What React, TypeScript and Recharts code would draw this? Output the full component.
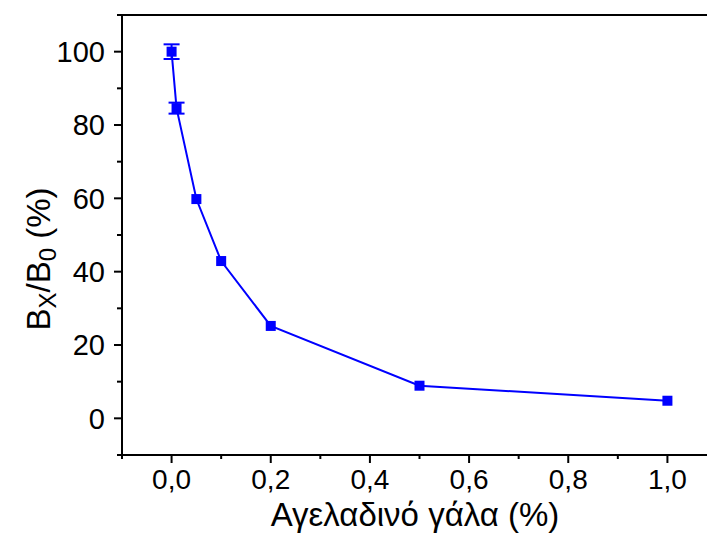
import { LineChart, Line, XAxis, YAxis, ErrorBar, ReferenceLine, Label } from 'recharts';

const milkPct = [0, 0.01, 0.05, 0.1, 0.2, 0.5, 1.0];
const ratioPct = [100, 84.6, 59.8, 42.9, 25.2, 8.9, 4.8];
const ratioErr = [2, 1.5, 0, 0, 0, 0, 0];

const xTicks = [-0.1, 0, 0.1, 0.2, 0.3, 0.4, 0.5, 0.6, 0.7, 0.8, 0.9, 1.0];
const yTicks = [-10, 0, 10, 20, 30, 40, 50, 60, 70, 80, 90, 100, 110];

const FONT = '"Liberation Sans", Arial, sans-serif';
const BLUE = '#0000ff';

const data = milkPct.map((x, i) => ({ x, y: ratioPct[i], err: ratioErr[i] }));

function XTick({ x, y, payload }: any) {
  const v = payload.value as number;
  const major = Math.round(v * 10) % 2 === 0;
  return (
    <g>
      <line x1={x} x2={x} y1={y} y2={y + (major ? 8 : 4)} stroke="#000" strokeWidth={2} />
      {major && (
        <text x={x} y={y + 34} textAnchor="middle" fontSize={28} fontFamily={FONT} fill="#000">
          {v.toFixed(1).replace('.', ',')}
        </text>
      )}
    </g>
  );
}

function YTick({ x, y, payload }: any) {
  const v = payload.value as number;
  const major = v % 20 === 0;
  return (
    <g>
      <line x1={x} x2={x - (major ? 8 : 5)} y1={y} y2={y} stroke="#000" strokeWidth={2} />
      {major && (
        <text x={x - 17} y={y} dy="0.36em" textAnchor="end" fontSize={29} fontFamily={FONT} fill="#000">
          {v}
        </text>
      )}
    </g>
  );
}

function SquareDot({ cx, cy, index }: any) {
  return <rect key={`d${index}`} x={cx - 5} y={cy - 5} width={10} height={10} fill={BLUE} />;
}

export default function App() {
  return (
    <div style={{ position: 'absolute', left: 0, top: 0, width: 707, height: 545, overflow: 'hidden', background: '#fff' }}>
      <LineChart width={717} height={545} data={data} margin={{ top: 15, right: 0, bottom: 0, left: 0 }}>
        <XAxis
          dataKey="x"
          type="number"
          domain={[-0.1, 1.1]}
          ticks={xTicks}
          interval={0}
          height={90}
          tickSize={0}
          tickMargin={0}
          tickLine={false}
          tick={<XTick />}
          axisLine={{ stroke: '#000', strokeWidth: 2 }}
        >
          <Label
            content={() => (
              <text x={415} y={526} textAnchor="middle" fontSize={33} fontFamily={FONT} fill="#000">
                Αγελαδινό γάλα (%)
              </text>
            )}
          />
        </XAxis>
        <YAxis
          type="number"
          domain={[-10, 110]}
          ticks={yTicks}
          interval={0}
          width={122}
          tickSize={0}
          tickMargin={0}
          tickLine={false}
          tick={<YTick />}
          axisLine={{ stroke: '#000', strokeWidth: 2 }}
        >
          <Label
            content={() => (
              <text
                x={50}
                y={259}
                transform="rotate(-90 50 259)"
                textAnchor="middle"
                fontSize={33}
                fontFamily={FONT}
                fill="#000"
              >
                B<tspan fontSize={24} dy={6}>X</tspan>
                <tspan dy={-6}>/B</tspan>
                <tspan fontSize={24} dy={6}>0</tspan>
                <tspan dy={-6}> (%)</tspan>
              </text>
            )}
          />
        </YAxis>
        <ReferenceLine y={110} stroke="#000" strokeWidth={2} />
        <Line
          dataKey="y"
          stroke={BLUE}
          strokeWidth={2}
          dot={SquareDot}
          activeDot={false}
          isAnimationActive={false}
        >
          <ErrorBar dataKey="err" direction="y" width={8} stroke={BLUE} strokeWidth={2} />
        </Line>
      </LineChart>
    </div>
  );
}
